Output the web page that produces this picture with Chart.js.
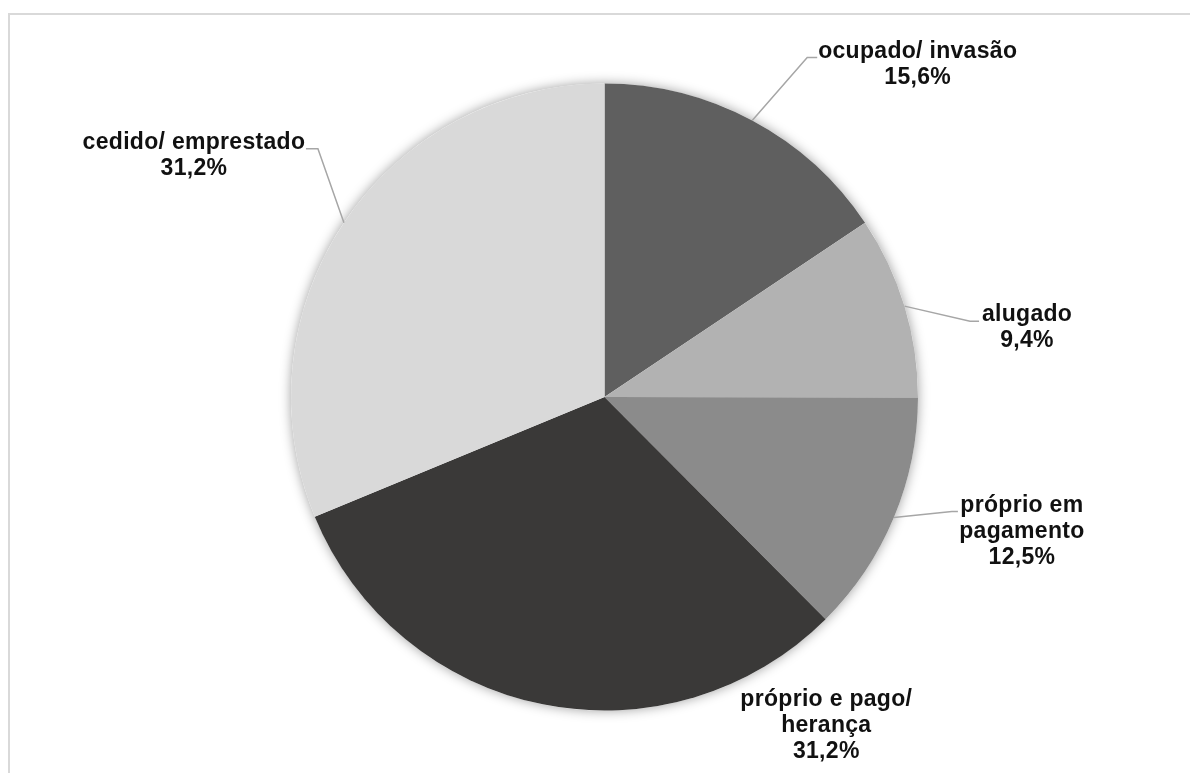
<!DOCTYPE html>
<html lang="pt">
<head>
<meta charset="utf-8">
<title>Condição de ocupação do imóvel</title>
<script src="https://cdn.jsdelivr.net/npm/chart.js@4/dist/chart.umd.min.js"></script>
<style>
  html, body { margin: 0; padding: 0; background: #ffffff; overflow: hidden; }
  #wrap { position: relative; width: 1190px; height: 773px; }
  #frame {
    position: absolute; left: 8px; top: 13px; width: 1200px; height: 800px;
    border-left: 2px solid #d9d9d9; border-top: 2px solid #d9d9d9;
    box-sizing: border-box; pointer-events: none;
  }
  canvas { position: absolute; left: 0; top: 0; }
</style>
</head>
<body>
<div id="wrap">
  <div id="frame"></div>
  <canvas id="chart" width="1190" height="773"></canvas>
</div>
<script>
// Categories (each label line is a separate entry)
const categories = [
  ["ocupado/ invasão"],
  ["alugado"],
  ["próprio em", "pagamento"],
  ["próprio e pago/", "herança"],
  ["cedido/ emprestado"]
];
// Share of households, in percent
const shares = [15.6, 9.4, 12.5, 31.2, 31.2];
// Displayed percentage texts
const shareLabels = ["15,6%", "9,4%", "12,5%", "31,2%", "31,2%"];
// Slice fills
const sliceColors = ["#5f5f5f", "#b2b2b2", "#8b8b8b", "#3a3938", "#d9d9d9"];

// Label placement relative to the middle of each slice's outer edge:
// elbow = bend of the leader line, tail = end of its short horizontal run,
// text = centre of the text block. leader=false means no connector.
const labelPlacement = [
  { leader: true,  elbow: [55, -63],  tail: [65, -63],  text: [165.5, -55.5] },
  { leader: true,  elbow: [65.5, 15], tail: [74.5, 15], text: [122.5, 21.5] },
  { leader: true,  elbow: [58, -6],   tail: [64, -6],   text: [128, 14] },
  { leader: false, text: [283.5, 21.5] },
  { leader: true,  elbow: [-26, -74], tail: [-38, -74], text: [-150, -67.5] }
];

const LABEL_FONT = "bold 23px 'Liberation Sans', Arial, sans-serif";
const LINE_HEIGHT = 26;

// Soft glow behind the whole pie
const pieShadow = {
  id: 'pieShadow',
  beforeDatasetsDraw(chart) {
    const arcs = chart.getDatasetMeta(0).data;
    if (!arcs.length) return;
    const a = arcs[0];
    const ctx = chart.ctx;
    ctx.save();
    ctx.shadowColor = 'rgba(0,0,0,0.38)';
    ctx.shadowBlur = 12;
    ctx.fillStyle = '#ffffff';
    ctx.beginPath();
    ctx.arc(a.x, a.y, a.outerRadius, 0, Math.PI * 2);
    ctx.fill();
    ctx.restore();
  }
};

// Category + percentage labels with leader lines
const sliceLabels = {
  id: 'sliceLabels',
  afterDatasetsDraw(chart) {
    const ctx = chart.ctx;
    const arcs = chart.getDatasetMeta(0).data;
    arcs.forEach((arc, i) => {
      const mid = (arc.startAngle + arc.endAngle) / 2;
      const ex = arc.x + Math.cos(mid) * arc.outerRadius;
      const ey = arc.y + Math.sin(mid) * arc.outerRadius;
      const p = labelPlacement[i];
      ctx.save();
      if (p.leader) {
        ctx.strokeStyle = '#a6a6a6';
        ctx.lineWidth = 1.5;
        ctx.beginPath();
        ctx.moveTo(ex, ey);
        ctx.lineTo(ex + p.elbow[0], ey + p.elbow[1]);
        ctx.lineTo(ex + p.tail[0], ey + p.tail[1]);
        ctx.stroke();
      }
      const lines = categories[i].concat([shareLabels[i]]);
      const cx = ex + p.text[0];
      const cy = ey + p.text[1];
      const top = cy - (lines.length - 1) * LINE_HEIGHT / 2;
      ctx.font = LABEL_FONT;
      if ('letterSpacing' in ctx) ctx.letterSpacing = '0.3px';
      ctx.fillStyle = '#111111';
      ctx.textAlign = 'center';
      ctx.textBaseline = 'middle';
      lines.forEach((t, k) => ctx.fillText(t, cx, top + k * LINE_HEIGHT));
      ctx.restore();
    });
  }
};

new Chart(document.getElementById('chart'), {
  type: 'pie',
  data: {
    labels: categories.map(c => c.join(' ')),
    datasets: [{
      data: shares,
      backgroundColor: sliceColors,
      borderWidth: 0
    }]
  },
  options: {
    responsive: false,
    animation: false,
    layout: { padding: { left: 291, right: 272, top: 83.5, bottom: 62.5 } },
    plugins: {
      legend: { display: false },
      tooltip: { enabled: false },
      title: { display: false }
    }
  },
  plugins: [pieShadow, sliceLabels]
});
</script>
</body>
</html>
